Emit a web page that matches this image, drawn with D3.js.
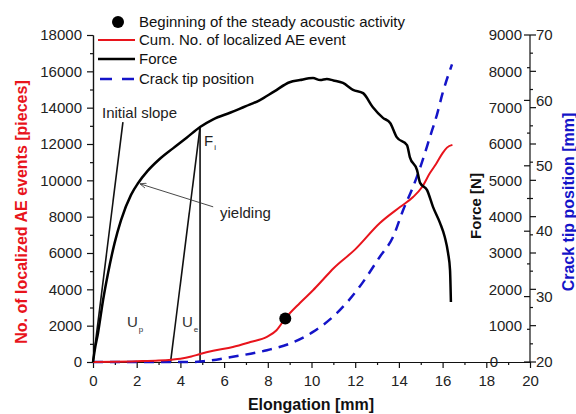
<!DOCTYPE html>
<html>
<head>
<meta charset="utf-8">
<script src="https://cdn.jsdelivr.net/npm/d3@7"></script>
<style>
  body { margin: 0; background: #fff; }
  text { font-family: "Liberation Sans", Arial, sans-serif; }
</style>
</head>
<body>
<script>
const width = 576, height = 414;

// force curve: elongation [mm] -> force [N]
const forceElong = [0, 0.08, 0.23, 0.46, 0.69, 0.99, 1.28, 1.74, 2.06, 2.5, 3.0, 3.66, 4.3, 4.9, 5.5, 6.27, 7.0, 7.64, 8.3, 9.0, 9.47, 10.07, 10.4, 10.7, 11.0, 11.44, 11.9, 12.36, 12.8, 13.27, 13.6, 13.9, 14.37, 14.5, 14.83, 14.97, 15.29, 15.56, 15.88, 16.1, 16.25, 16.34, 16.38];
const forceVal = [0, 330, 800, 1700, 2450, 3280, 3900, 4600, 4920, 5260, 5560, 5880, 6180, 6467, 6680, 6860, 7040, 7210, 7450, 7700, 7760, 7815, 7760, 7790, 7750, 7680, 7490, 7400, 7020, 6720, 6580, 6190, 5970, 5640, 5280, 4930, 4730, 4270, 3830, 3440, 3000, 2530, 1650];

// cumulative number of localized AE events
const aeElong = [0, 1, 2, 3, 3.6, 4, 4.5, 4.9, 5.5, 6.4, 7.2, 7.96, 8.4, 8.8, 9.47, 10.07, 10.5, 11, 12, 13.13, 14.05, 14.65, 15.06, 15.42, 15.7, 16.0, 16.2, 16.45];
const aeVal = [0, 10, 40, 80, 130, 180, 300, 440, 620, 830, 1100, 1380, 1750, 2400, 3250, 3950, 4500, 5150, 6200, 7650, 8530, 9080, 9630, 10400, 10900, 11500, 11800, 11950];

// crack tip position [mm]
const crackElong = [0, 4.5, 5, 6.4, 7.96, 9.0, 10.07, 11.17, 12.2, 13.13, 13.73, 14.19, 14.65, 15.0, 15.42, 15.74, 16.0, 16.43];
const crackVal = [20, 20, 20.1, 20.8, 21.8, 22.8, 24.6, 27.5, 31.5, 36.1, 39.1, 43.2, 46.8, 50.0, 54.4, 57.8, 61.1, 65.5];

// beginning of steady acoustic activity
const steadyPoint = [8.8, 2400];

// construction lines (elongation, force)
const initialSlope = [[0, 0], [1.37, 6600]];
const elasticLine = [[3.55, 0], [4.9, 6467]];
const fiLine = [[4.9, 0], [4.9, 6467]];
const yieldArrow = [[5.5, 4270], [2.17, 4900]];

const xTicks = [0, 2, 4, 6, 8, 10, 12, 14, 16, 18, 20];
const xMinor = [1, 3, 5, 7, 9, 11, 13, 15, 17, 19];
const aeTicks = [0, 2000, 4000, 6000, 8000, 10000, 12000, 14000, 16000, 18000];
const aeMinor = [1000, 3000, 5000, 7000, 9000, 11000, 13000, 15000, 17000];
const forceTicks = [0, 1000, 2000, 3000, 4000, 5000, 6000, 7000, 8000, 9000];
const forceMinor = [500, 1500, 2500, 3500, 4500, 5500, 6500, 7500, 8500];
const crackTicks = [20, 30, 40, 50, 60, 70];
const crackMinor = [25, 35, 45, 55, 65];

const red = "#e8141c", blue = "#1414c8";

let svg = d3.select("body").append("svg")
  .attr("width", width)
  .attr("height", height);

let x = d3.scaleLinear().domain([0, 20]).range([93, 530]);
let yAE = d3.scaleLinear().domain([0, 18000]).range([362, 35]);
let yF = d3.scaleLinear().domain([0, 9000]).range([362, 35]);
let yC = d3.scaleLinear().domain([20, 70]).range([362, 35]);

function styleAxis(g) {
  g.attr("font-size", 15).attr("font-family", "Liberation Sans, Arial, sans-serif");
  g.selectAll("path, line").attr("stroke", "#111").attr("stroke-width", 1.2);
  g.selectAll("text").attr("fill", "#222");
}

// bottom axis
svg.append("g").attr("transform", "translate(0,362)")
  .call(d3.axisBottom(x).tickValues(xMinor).tickSize(3).tickSizeOuter(0).tickFormat(""))
  .call(styleAxis);
svg.append("g").attr("transform", "translate(0,362)")
  .call(d3.axisBottom(x).tickValues(xTicks).tickSize(6).tickSizeOuter(0).tickPadding(7).tickFormat(d3.format("d")))
  .call(styleAxis);

// left axis
svg.append("g").attr("transform", "translate(93,0)")
  .call(d3.axisLeft(yAE).tickValues(aeMinor).tickSize(3).tickSizeOuter(0).tickFormat(""))
  .call(styleAxis);
svg.append("g").attr("transform", "translate(93,0)")
  .call(d3.axisLeft(yAE).tickValues(aeTicks).tickSize(6).tickSizeOuter(0).tickPadding(5).tickFormat(d3.format("d")))
  .call(styleAxis);

// right axes (force labels left of the line, crack tip labels right of it)
let right = svg.append("g");
right.append("line").attr("x1", 530).attr("x2", 530).attr("y1", 35).attr("y2", 362)
  .attr("stroke", "#111").attr("stroke-width", 1.2);
right.selectAll(".fmaj").data(forceTicks).enter().append("line")
  .attr("x1", 530).attr("x2", 536).attr("y1", yF).attr("y2", yF)
  .attr("stroke", "#111").attr("stroke-width", 1.2);
right.selectAll(".fmin").data(forceMinor).enter().append("line")
  .attr("x1", 530).attr("x2", 533).attr("y1", yF).attr("y2", yF)
  .attr("stroke", "#111").attr("stroke-width", 1.2);
right.selectAll(".flab").data(forceTicks).enter().append("text")
  .attr("x", d => d === 0 ? 498 : 522)
  .attr("y", yF).attr("dy", "0.35em")
  .attr("text-anchor", "end").attr("font-size", 15).attr("fill", "#222")
  .text(d => d);
right.selectAll(".cmaj").data(crackTicks).enter().append("line")
  .attr("x1", 530).attr("x2", 524).attr("y1", yC).attr("y2", yC)
  .attr("stroke", "#111").attr("stroke-width", 1.2);
right.selectAll(".cmin").data(crackMinor).enter().append("line")
  .attr("x1", 530).attr("x2", 527).attr("y1", yC).attr("y2", yC)
  .attr("stroke", "#111").attr("stroke-width", 1.2);
right.selectAll(".clab").data(crackTicks).enter().append("text")
  .attr("x", 536).attr("y", yC).attr("dy", "0.35em")
  .attr("font-size", 15).attr("fill", "#222")
  .text(d => d);

// axis titles
svg.append("text").attr("x", 311).attr("y", 410).attr("text-anchor", "middle")
  .attr("font-size", 16).attr("font-weight", "bold").attr("fill", "#111")
  .text("Elongation [mm]");
svg.append("text").attr("transform", "translate(27,212) rotate(-90)").attr("text-anchor", "middle")
  .attr("font-size", 16).attr("font-weight", "bold").attr("fill", red)
  .text("No. of localized AE events [pieces]");
svg.append("text").attr("transform", "translate(481,206) rotate(-90)").attr("text-anchor", "middle")
  .attr("font-size", 15).attr("font-weight", "bold").attr("fill", "#111")
  .text("Force [N]");
svg.append("text").attr("transform", "translate(574,202) rotate(-90)").attr("text-anchor", "middle")
  .attr("font-size", 16).attr("font-weight", "bold").attr("fill", blue)
  .text("Crack tip position [mm]");

// construction lines
let fLine = d3.line().x(d => x(d[0])).y(d => yF(d[1]));
[initialSlope, elasticLine, fiLine].forEach(function(seg) {
  svg.append("path").attr("d", fLine(seg))
    .attr("fill", "none").attr("stroke", "#111").attr("stroke-width", 1.6);
});

// curves
svg.append("path")
  .attr("d", d3.line().curve(d3.curveMonotoneX).x(d => x(d)).y((d, i) => yC(crackVal[i]))(crackElong))
  .attr("fill", "none").attr("stroke", blue).attr("stroke-width", 2.5)
  .attr("stroke-dasharray", "10,7");

svg.append("path")
  .attr("d", d3.line().curve(d3.curveMonotoneX).x(d => x(d)).y((d, i) => yAE(aeVal[i]))(aeElong))
  .attr("fill", "none").attr("stroke", red).attr("stroke-width", 2);

svg.append("path")
  .attr("d", d3.line().curve(d3.curveMonotoneX).x(d => x(d)).y((d, i) => yF(forceVal[i]))(forceElong))
  .attr("fill", "none").attr("stroke", "#000").attr("stroke-width", 2.5)
  .attr("stroke-linejoin", "round");

svg.append("circle")
  .attr("cx", x(steadyPoint[0])).attr("cy", yAE(steadyPoint[1])).attr("r", 6)
  .attr("fill", "#000");

// yielding arrow
svg.append("defs").append("marker")
  .attr("id", "ah").attr("viewBox", "0 0 10 10").attr("refX", 9).attr("refY", 5)
  .attr("markerWidth", 7).attr("markerHeight", 7).attr("orient", "auto")
  .append("path").attr("d", "M0,1 L10,5 L0,9").attr("fill", "none").attr("stroke", "#333").attr("stroke-width", 1.2);
svg.append("path").attr("d", fLine(yieldArrow))
  .attr("stroke", "#333").attr("stroke-width", 0.9).attr("fill", "none")
  .attr("marker-end", "url(#ah)");

// annotations
svg.append("text").attr("x", 102).attr("y", 118).attr("font-size", 15).attr("fill", "#222").text("Initial slope");
svg.append("text").attr("x", 220).attr("y", 218).attr("font-size", 15).attr("fill", "#222").text("yielding");
let fi = svg.append("text").attr("x", 204).attr("y", 146).attr("font-size", 15).attr("fill", "#222");
fi.append("tspan").text("F");
fi.append("tspan").attr("font-size", 8).attr("dx", 1).attr("dy", 4).text("i");
let up = svg.append("text").attr("x", 127).attr("y", 327).attr("font-size", 15).attr("fill", "#333");
up.append("tspan").text("U");
up.append("tspan").attr("font-size", 8).attr("dx", 1).attr("dy", 5).text("p");
let ue = svg.append("text").attr("x", 182).attr("y", 327).attr("font-size", 15).attr("fill", "#333");
ue.append("tspan").text("U");
ue.append("tspan").attr("font-size", 8).attr("dx", 1).attr("dy", 5).text("e");

// legend
let legend = svg.append("g");
legend.append("circle").attr("cx", 118).attr("cy", 22).attr("r", 6).attr("fill", "#000");
legend.append("line").attr("x1", 98).attr("x2", 135).attr("y1", 40).attr("y2", 40)
  .attr("stroke", red).attr("stroke-width", 2);
legend.append("line").attr("x1", 98).attr("x2", 135).attr("y1", 59).attr("y2", 59)
  .attr("stroke", "#000").attr("stroke-width", 2.4);
legend.append("line").attr("x1", 100).attr("x2", 134).attr("y1", 79).attr("y2", 79)
  .attr("stroke", blue).attr("stroke-width", 2.5).attr("stroke-dasharray", "12,10");
const legendLabels = ["Beginning of the steady acoustic activity", "Cum. No. of localized AE event", "Force", "Crack tip position"];
legend.selectAll(".lt").data(legendLabels).enter().append("text")
  .attr("x", 139).attr("y", (d, i) => [27, 45, 64, 84][i])
  .attr("font-size", 15).attr("fill", "#111")
  .text(d => d);
</script>
</body>
</html>
